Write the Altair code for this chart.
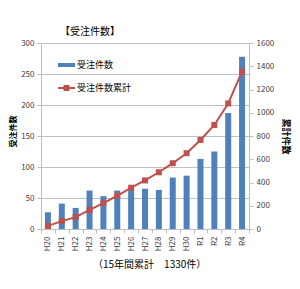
import altair as alt
import pandas as pd

years = ["H20", "H21", "H22", "H23", "H24", "H25", "H26", "H27", "H28", "H29", "H30", "R1", "R2", "R3", "R4"]
orders = [27, 41, 34, 62, 53, 62, 65, 65, 63, 83, 86, 113, 125, 187, 278]
cumulative = [27, 68, 102, 164, 223, 286, 355, 418, 488, 566, 652, 766, 895, 1080, 1356]

chart_title = "【受注件数】"
bar_name = "受注件数"
line_name = "受注件数累計"
left_title = "受注件数"
right_title = "累計件数"
footnote = "（15年間累計　1330件）"

FONT = "Noto Sans CJK JP"
BLUE = "#4F81BD"
RED = "#C0504D"
GRID = "#BFBFBF"
LABEL = "#404040"

df = pd.DataFrame({"year": years, "orders": orders, "cum": cumulative})

W, H = 208, 186

xenc = alt.X("year:N", sort=years, title=None,
             scale=alt.Scale(paddingInner=0, paddingOuter=0),
             axis=alt.Axis(labelAngle=270, labelAlign="right", labelBaseline="middle",
                           labelFontSize=8, labelColor=LABEL, labelFont=FONT, labelPadding=3,
                           tickBand="extent", tickColor=GRID, domainColor=GRID, tickSize=4,
                           labelOverlap=False))

bars = alt.Chart(df).mark_bar(size=6, color=BLUE).encode(
    x=xenc,
    y=alt.Y("orders:Q", scale=alt.Scale(domain=[0, 300], nice=False),
            axis=alt.Axis(values=[0, 50, 100, 150, 200, 250, 300], title=left_title,
                          titleFont=FONT, titleFontSize=8, titleFontWeight="bold", titleColor="#000000",
                          titleAngle=270, titleX=-28, titleY=88, titleAlign="center", titleBaseline="middle",
                          labelFont=FONT, labelFontSize=8, labelColor=LABEL, labelPadding=3,
                          tickColor=GRID, domainColor=GRID, tickSize=4,
                          grid=True, gridColor=GRID)),
)

line = alt.Chart(df).mark_line(color=RED, strokeWidth=2,
                               point=alt.OverlayMarkDef(shape="square", size=36, color=RED, filled=True)).encode(
    x=alt.X("year:N", sort=years),
    y=alt.Y("cum:Q", scale=alt.Scale(domain=[0, 1600], nice=False),
            axis=alt.Axis(values=[0, 200, 400, 600, 800, 1000, 1200, 1400, 1600], orient="right",
                          format="d",
                          title=right_title, grid=False,
                          titleFont=FONT, titleFontSize=9, titleFontWeight="bold", titleColor="#000000",
                          titleAngle=90, titleX=36, titleY=93, titleAlign="center", titleBaseline="middle",
                          labelFont=FONT, labelFontSize=8, labelColor=LABEL, labelPadding=3,
                          tickColor=GRID, domainColor=GRID, tickSize=4)),
)

# legend and free text
one = pd.DataFrame({"a": [0]})
leg_bar = alt.Chart(one).mark_rect(color=BLUE).encode(
    x=alt.value(17), x2=alt.value(34), y=alt.value(20), y2=alt.value(24))
leg_line = alt.Chart(one).mark_rule(color=RED, strokeWidth=2).encode(
    x=alt.value(17), x2=alt.value(34), y=alt.value(45))
leg_pt = alt.Chart(one).mark_point(shape="square", size=36, color=RED, filled=True, opacity=1).encode(
    x=alt.value(25.5), y=alt.value(45))
leg_t1 = alt.Chart(pd.DataFrame({"t": [bar_name]})).mark_text(
    font=FONT, fontSize=9, align="left", baseline="middle", color="#000000").encode(
    text="t:N", x=alt.value(36), y=alt.value(22))
leg_t2 = alt.Chart(pd.DataFrame({"t": [line_name]})).mark_text(
    font=FONT, fontSize=9, align="left", baseline="middle", color="#000000").encode(
    text="t:N", x=alt.value(36), y=alt.value(45))
ttl = alt.Chart(pd.DataFrame({"t": [chart_title]})).mark_text(
    font=FONT, fontSize=10, align="center", baseline="middle", color="#000000").encode(
    text="t:N", x=alt.value(49), y=alt.value(-11))
foot = alt.Chart(pd.DataFrame({"t": [footnote]})).mark_text(
    font=FONT, fontSize=10, align="left", baseline="middle", color="#000000").encode(
    text="t:N", x=alt.value(52), y=alt.value(222))

chart = alt.layer(bars, line, leg_bar, leg_line, leg_pt, leg_t1, leg_t2, ttl, foot).resolve_scale(
    y="independent"
).properties(
    width=W, height=H,
    autosize=alt.AutoSizeParams(type="none"),
    padding={"left": 41, "top": 43, "right": 51, "bottom": 60},
    background="#FFFFFF",
).configure_view(stroke=None)

chart.save("out.html", embed_options={"renderer": "svg", "actions": False})
